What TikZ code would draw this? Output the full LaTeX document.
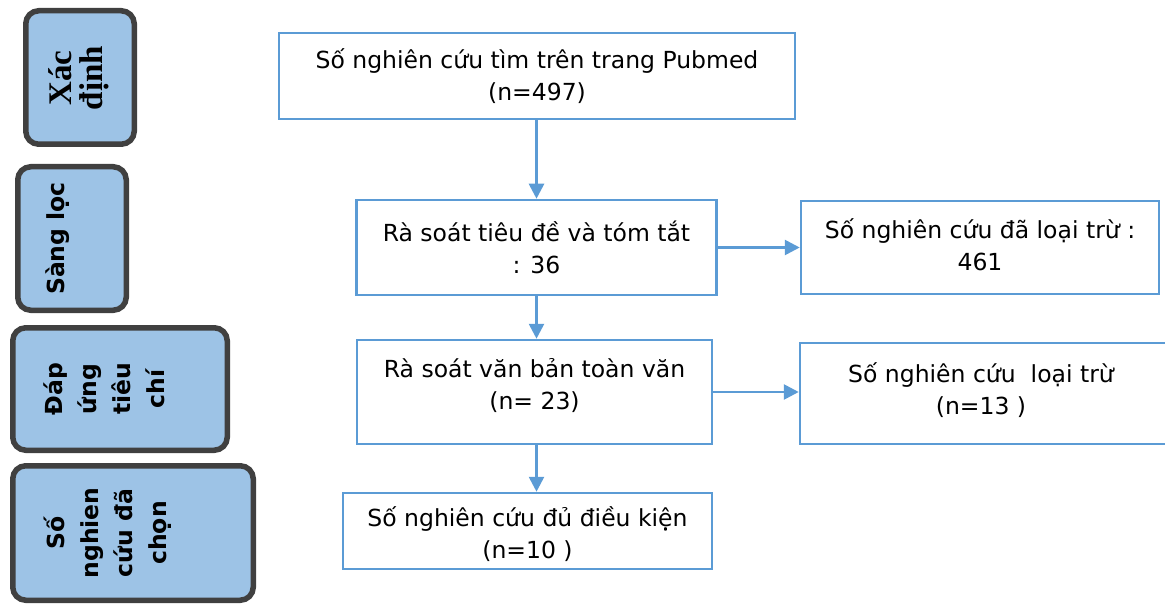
\documentclass[tikz,border=0pt]{standalone}
\usepackage{fontspec}
\setmainfont{DejaVu Sans}
\newfontfamily\serifbold{Liberation Serif}
\usetikzlibrary{arrows.meta}
\definecolor{boxblue}{HTML}{5B9BD5}
\definecolor{phasefill}{HTML}{9DC3E6}
\definecolor{phaseline}{HTML}{404040}

\begin{document}
\begin{tikzpicture}[x=1pt, y=-1pt,
	stage/.style={draw=boxblue, line width=2.5pt, align=center, inner sep=0pt, font=\fontsize{23.5}{32}\selectfont},
	stagetext/.style={align=center, inner sep=0pt, font=\fontsize{23.5}{32}\selectfont},
	phase/.style={draw=phaseline, fill=phasefill, line width=5.5pt, rounded corners=13pt, inner sep=0pt},
	phasetext/.style={rotate=90, anchor=north, align=center, inner sep=0pt, font=\fontsize{23.5}{34}\selectfont\bfseries},
	flow/.style={draw=boxblue, line width=2.7pt, -{Triangle[length=15pt, width=15pt]}}]
	\useasboundingbox (0,0) rectangle (1165,604);

	% giai doan (cot trai)
	\node[phase, minimum width=108.5pt, minimum height=133.5pt] (xacdinh) at (80,77.5) {};
	\node[phasetext, font=\fontsize{33}{31}\selectfont\serifbold\bfseries] (xacdinhtxt) at (48,78) {Xác\\định};
	\node[phase, minimum width=108.5pt, minimum height=143.5pt] (sangloc) at (72,238.5) {};
	\node[phasetext] (sangloctxt) at (46,238.5) {Sàng lọc};
	\node[phase, minimum width=214.5pt, minimum height=122.5pt] (dapung) at (120,389) {};
	\node[phasetext] (dapungtxt) at (44,389) {Đáp\\ứng\\tiêu\\chí};
	\node[phase, minimum width=240.5pt, minimum height=134.5pt] (dachon) at (133,533) {};
	\node[phasetext] (dachontxt) at (44,533) {Số\\nghien\\cứu đã\\chọn};

	% cac buoc (cot giua)
	\node[stage, minimum width=516pt, minimum height=86pt] (pubmed) at (537,76) {Số nghiên cứu tìm trên trang Pubmed\\(n=497)};
	\node[stage, minimum width=360pt, minimum height=95pt] (tieude) at (536.5,247.5) {Rà soát tiêu đề và tóm tắt\\: 36};
	\node[stage, minimum width=355pt, minimum height=104pt] (toanvan) at (534.5,392) {};
	\node[stagetext] (toanvantxt) at (534.5,386) {Rà soát văn bản toàn văn\\(n= 23)};
	\node[stage, minimum width=369pt, minimum height=76pt] (dudk) at (527.5,531) {};
	\node[stagetext] (dudktxt) at (527.5,534) {Số nghiên cứu đủ điều kiện\\(n=10 )};

	% loai tru (cot phai)
	\node[stage, minimum width=358pt, minimum height=93pt] (loai1) at (980,247.5) {};
	\node[stagetext] (loai1txt) at (980,245) {Số nghiên cứu đã loại trừ :\\461};
	\node[stage, minimum width=390pt, minimum height=101pt] (loai2) at (995,393.5) {};
	\node[stagetext] (loai2txt) at (981,390) {Số nghiên cứu\ \ loại trừ\\(n=13 )};

	\draw[flow] (pubmed.south -| tieude.north) -- (tieude.north);
	\draw[flow] (tieude.south) -- (tieude.south |- toanvan.north);
	\draw[flow] (tieude.south |- toanvan.south) -- (tieude.south |- dudk.north);
	\draw[flow] (tieude.east) -- (loai1.west);
	\draw[flow] (toanvan.east) -- (toanvan.east -| loai2.west);
\end{tikzpicture}
\end{document}
